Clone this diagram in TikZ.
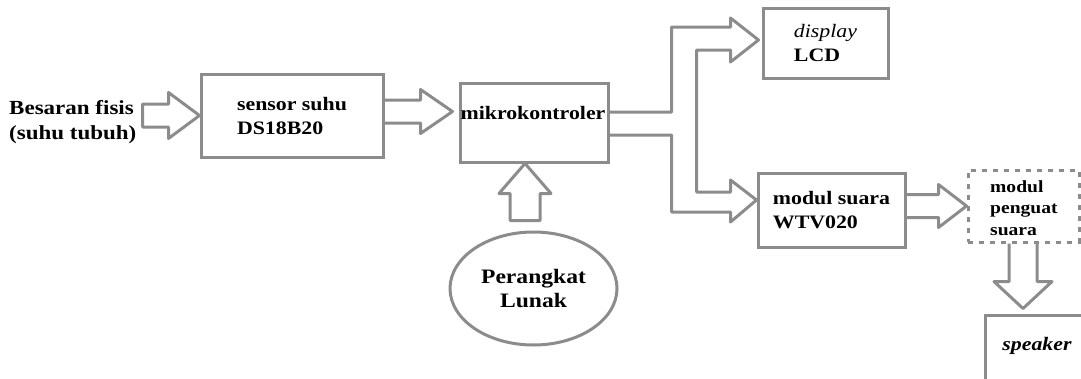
\documentclass[tikz,border=0pt]{standalone}
\usepackage{fontspec}
\setmainfont{Liberation Serif}[FakeStretch=1.15]
\usetikzlibrary{shapes.geometric,calc}
\definecolor{abu}{RGB}{140,140,140}
\tikzset{
  blok/.style={draw=abu, line width=3pt, rectangle, inner sep=0pt, align=left,
    font=\fontsize{19}{24}\selectfont\bfseries},
  teks/.style={inner sep=0pt, align=left, font=\fontsize{19}{24}\selectfont\bfseries},
  tekskecil/.style={inner sep=0pt, align=left, font=\fontsize{17}{21.5}\selectfont\bfseries},
  panah/.style={draw=abu, line width=3pt, line join=round}
}
% panah blok: [penutup]{awal}{ujung}{setengah batang}{setengah kepala}{panjang kepala}
\newcommand{\panahkanan}[6][]{%
  \draw[panah] let \p1=(#2), \p2=(#3) in
    (\x1,\y2+#4) -- (\x2-#6,\y2+#4) -- (\x2-#6,\y2+#5) -- (\x2,\y2)
    -- (\x2-#6,\y2-#5) -- (\x2-#6,\y2-#4) -- (\x1,\y2-#4) #1;}
\newcommand{\panahtegak}[6][]{%
  \draw[panah] let \p1=(#2), \p2=(#3) in
    (\x2-#4,\y1) -- (\x2-#4,\y2+#6) -- (\x2-#5,\y2+#6) -- (\x2,\y2)
    -- (\x2+#5,\y2+#6) -- (\x2+#4,\y2+#6) -- (\x2+#4,\y1) #1;}
\begin{document}
\begin{tikzpicture}[x=1pt,y=-1pt]
\useasboundingbox (0,0) rectangle (1081,378);
\clip (0,0) rectangle (1081,378);

\node[teks, anchor=west, font=\fontsize{20}{25}\selectfont\bfseries] (besaran) at (9,122) {Besaran fisis\\(suhu tubuh)};
\node[blok, minimum width=182, minimum height=83] (sensor) at (292,115.5) {sensor suhu\\DS18B20};
\node[blok, minimum width=148, minimum height=79] (mikro) at (534,122.5) {};
\node[teks] (mikrotxt) at (533,113) {mikrokontroler};
\node[blok, ellipse, minimum width=167, minimum height=113, align=center,
  font=\fontsize{20.5}{24}\selectfont\bfseries] (lunak) at (533.5,288.5) {Perangkat\\Lunak};
\node[blok, minimum width=125, minimum height=70] (lcd) at (825.5,43) {\mdseries\itshape display\\LCD};
\node[blok, minimum width=147, minimum height=74] (suara) at (831.5,210) {modul suara\\WTV020};
\node[blok, dash pattern=on 5pt off 6pt, minimum width=111, minimum height=72] (penguat) at (1023.5,206) {};
\node[tekskecil, anchor=west] (penguattxt) at (990,208) {modul\\penguat\\suara};
\node[blok, minimum width=110, minimum height=90] (speaker) at (1040,360) {};
\node[teks, font=\fontsize{19}{24}\selectfont\bfseries\itshape] (speakertxt) at (1037,346) {speaker};

\panahkanan[-- cycle]{$(besaran.east)+(6,0)$}{sensor.west}{11.5pt}{23pt}{31pt}
\panahkanan{sensor.east}{$(mikro.west)+(-6,-11)$}{11.5pt}{22pt}{32pt}
\panahkanan{suara.east}{penguat.west}{11.5pt}{21.5pt}{28pt}
\panahtegak[-- cycle]{$(lunak.north)+(0,-10)$}{$(mikro.south)+(-9,0)$}{15pt}{26pt}{-30pt}
\panahtegak{penguat.south}{$(speaker.north)+(-17,-5)$}{14pt}{29pt}{27pt}

% cabang ke LCD dan modul suara
\draw[panah] let \p1=(mikro.east), \p2=(lcd.west), \p3=(suara.west) in
  (\x1,\y1+10.5pt) -- (\x1+62pt,\y1+10.5pt) -- (\x1+62pt,\y2+16pt) -- (\x2-31pt,\y2+16pt)
  -- (\x2-31pt,\y2+25pt) -- (\x2-3pt,\y2+3pt) -- (\x2-31pt,\y2-19pt) -- (\x2-31pt,\y2-7pt)
  -- (\x1+87pt,\y2-7pt) -- (\x1+87pt,\y3+18pt) -- (\x3-26pt,\y3+18pt) -- (\x3-26pt,\y3+30pt)
  -- (\x3,\y3+10pt) -- (\x3-26pt,\y3-12pt) -- (\x3-26pt,\y3-2pt) -- (\x1+62pt,\y3-2pt)
  -- (\x1+62pt,\y1-12.5pt) -- (\x1,\y1-12.5pt);
\end{tikzpicture}
\end{document}
